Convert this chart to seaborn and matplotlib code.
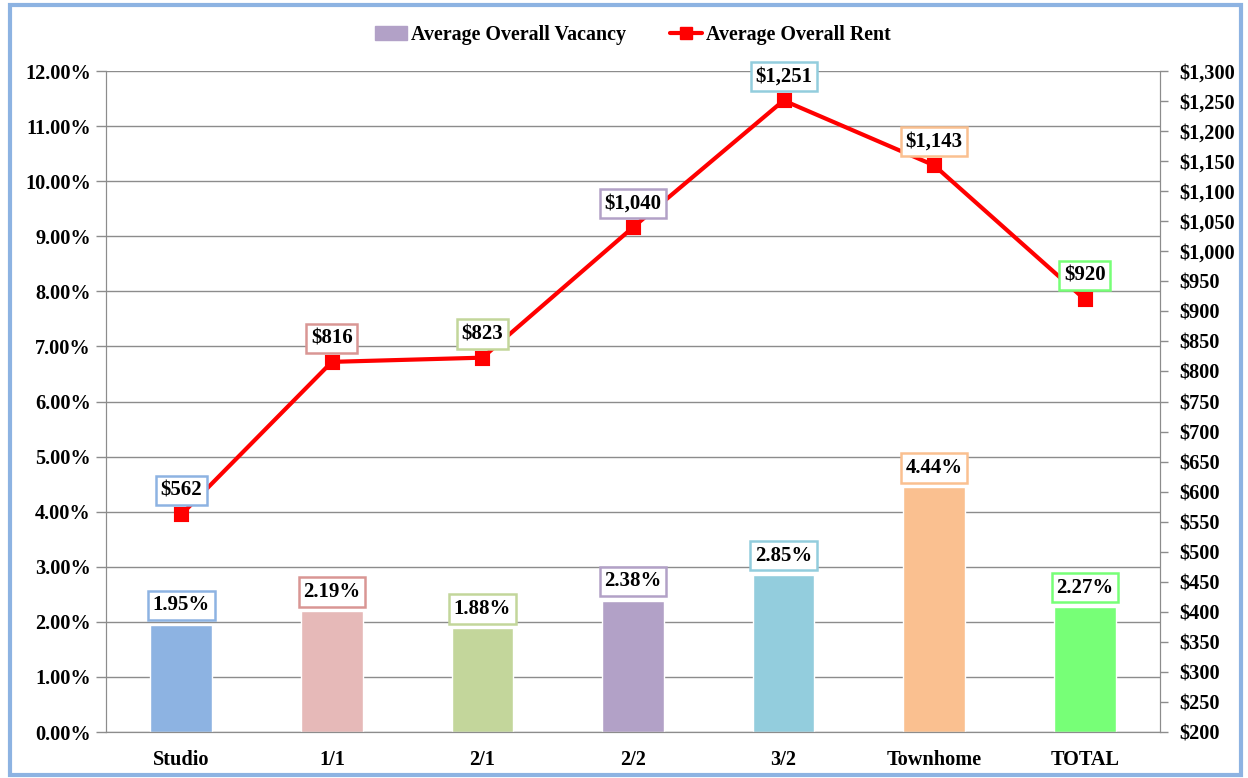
import matplotlib
matplotlib.use('Agg')
import matplotlib.pyplot as plt
import matplotlib.patches as mpatches
import matplotlib.lines as mlines
import matplotlib.ticker as mticker
import seaborn as sns
import pandas as pd

# chart data
categories = ['Studio', '1/1', '2/1', '2/2', '3/2', 'Townhome', 'TOTAL']
vacancy = [1.95, 2.19, 1.88, 2.38, 2.85, 4.44, 2.27]
rent = [562, 816, 823, 1040, 1251, 1143, 920]
bar_colors = ['#8DB3E2', '#E6B9B8', '#C3D69B', '#B2A1C7', '#93CDDD', '#FAC090', '#77FF77']
box_colors = ['#8DB3E2', '#D99694', '#C3D69B', '#B2A1C7', '#93CDDD', '#FAC090', '#77FF77']

sns.set_style('white')
plt.rcParams['font.family'] = ['Liberation Serif', 'DejaVu Serif']
plt.rcParams['font.weight'] = 'bold'
plt.rcParams['text.color'] = 'black'
plt.rcParams['xtick.labelcolor'] = 'black'
plt.rcParams['ytick.labelcolor'] = 'black'

df = pd.DataFrame({'category': categories, 'vacancy': vacancy, 'rent': rent})

fig = plt.figure(figsize=(12.48, 7.78), dpi=100)
ax = fig.add_axes([0.085, 0.0591, 0.8445, 0.8496])
grid_c = '#8C8C8C'
fs = 14.6

sns.barplot(data=df, x='category', y='vacancy', hue='category', palette=bar_colors,
            width=0.41, legend=False, ax=ax, saturation=1)
ax.set_ylim(0, 12)
ax.set_xlim(-0.5, 6.5)
ax.yaxis.set_major_locator(mticker.MultipleLocator(1))
ax.yaxis.set_major_formatter(mticker.FuncFormatter(lambda v, p: f'{v:.2f}%'))
ax.grid(axis='y', color=grid_c, linewidth=1)
ax.set_axisbelow(True)
ax.set_xlabel('')
ax.set_ylabel('')

ax2 = ax.twinx()
sns.pointplot(data=df, x='category', y='rent', color='#FF0000', markers='s',
              linewidth=3, markersize=8, ax=ax2)
ax2.set_ylim(200, 1300)
ax2.set_xlim(-0.5, 6.5)
ax2.yaxis.set_major_locator(mticker.MultipleLocator(50))
ax2.yaxis.set_major_formatter(mticker.FuncFormatter(lambda v, p: f'${v:,.0f}'))
ax2.set_ylabel('')

for a in (ax, ax2):
    for s in a.spines.values():
        s.set_color(grid_c)
    a.tick_params(labelcolor='black', labelsize=fs, length=7, width=1)
    a.tick_params(axis='both', which='both', color=grid_c)
ax.spines['top'].set_visible(False)
ax2.spines['top'].set_visible(False)
ax.tick_params(axis='y', pad=4)
ax2.tick_params(axis='y', pad=8, length=6)
ax.set_xticks(range(len(categories)))
ax.set_xticklabels(categories, fontsize=fs, fontweight='bold')
ax.set_xticks([i - 0.5 for i in range(len(categories) + 1)], minor=True)
ax.tick_params(axis='x', which='major', length=0, pad=13)
ax.tick_params(axis='x', which='minor', length=6)
for lab in ax.get_yticklabels() + ax2.get_yticklabels():
    lab.set_fontweight('bold')

# data labels
for i, (v, r) in enumerate(zip(vacancy, rent)):
    ax.annotate(f'{v:.2f}%', (i, v), xytext=(0, 14), textcoords='offset points',
                ha='center', va='center', fontsize=15, fontweight='bold', color='black',
                bbox=dict(boxstyle='square,pad=0.22', fc='white', ec=box_colors[i], lw=1.8))
    ax2.annotate(f'${r:,}', (i, r), xytext=(0, 17), textcoords='offset points',
                 ha='center', va='center', fontsize=15, fontweight='bold', color='black',
                 bbox=dict(boxstyle='square,pad=0.22', fc='white', ec=box_colors[i], lw=1.8))

# legend
h1 = mpatches.Patch(color='#B2A1C7', label='Average Overall Vacancy')
h2 = mlines.Line2D([], [], color='#FF0000', lw=3, marker='s', markersize=8,
                   label='Average Overall Rent')
fig.legend(handles=[h1, h2], loc='center', bbox_to_anchor=(0.507, 0.955), ncol=2,
           frameon=False, handlelength=1.6, handletextpad=0.2,
           columnspacing=2.2, prop={'weight': 'bold', 'size': 14.4})

# figure border
fig.patches.append(mpatches.Rectangle((0.008, 0.004), 0.986, 0.989, transform=fig.transFigure,
                                      fill=False, ec='#8DB3E2', lw=3))

fig.savefig('out.png', dpi=100)
